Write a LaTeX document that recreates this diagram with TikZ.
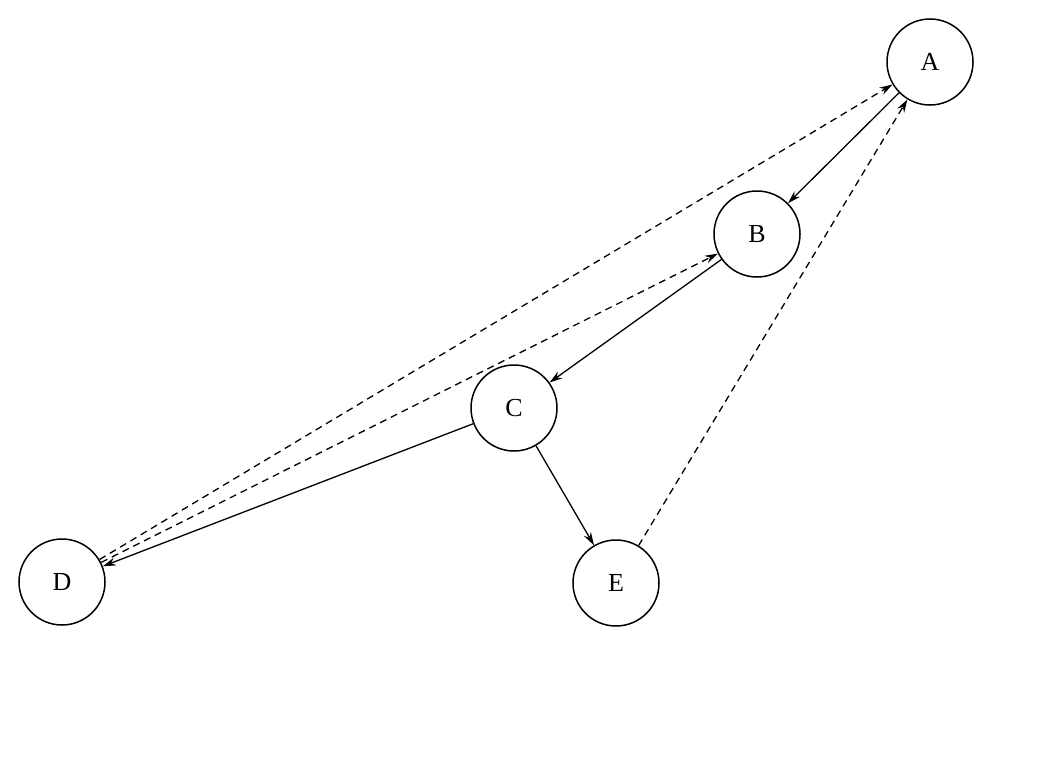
\documentclass[tikz,border=0pt]{standalone}
\usepackage{fontspec}
\setmainfont{Liberation Serif}
\usetikzlibrary{arrows.meta}
\begin{document}
\begin{tikzpicture}[x=1pt,y=-1pt,
  vert/.style={circle,draw,line width=1.5pt,minimum size=86pt,inner sep=0pt,font=\fontsize{26}{28}\selectfont},
  edge/.style={line width=1.3pt,-{Stealth[length=13pt,width=8pt]}},
  dedge/.style={edge,dash pattern=on 7pt off 5pt}]
\useasboundingbox (0,0) rectangle (1040,768);
\fill[white] (0,0) rectangle (1040,768);
\node[vert] (A) at (930,62) {A};
\node[vert] (B) at (757,234) {B};
\node[vert] (C) at (514,408) {C};
\node[vert] (D) at (62,582) {D};
\node[vert] (E) at (616,583) {E};
\draw[edge] (A) -- (B);
\draw[edge] (B) -- (C);
\draw[edge] (C) -- (E);
\draw[edge] (C) -- (D);
\draw[dedge] (D) -- (A);
\draw[dedge] (D) -- (B);
\draw[dedge] (E) -- (A);
\end{tikzpicture}
\end{document}
